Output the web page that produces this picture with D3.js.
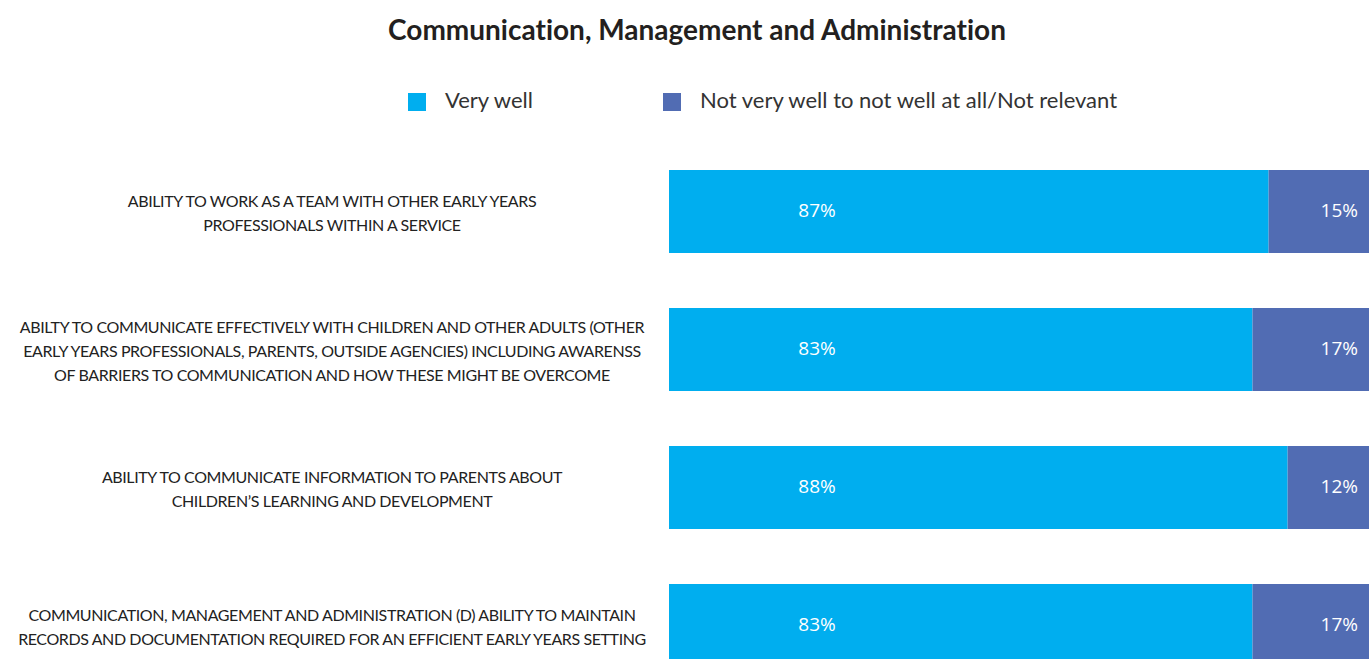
<!DOCTYPE html>
<html>
<head>
<meta charset="utf-8">
<script src="https://cdn.jsdelivr.net/npm/d3@7"></script>
<style>
  html, body { margin: 0; padding: 0; background: #fff; overflow: hidden; }
  svg { display: block; }
  text { font-variant-ligatures: none; }
</style>
</head>
<body>
<svg id="chart" width="1369" height="659"></svg>
<script>
// ---- data ----
const title = "Communication, Management and Administration";
const seriesNames = ["Very well", "Not very well to not well at all/Not relevant"];
const categories = [
  ["ABILITY TO WORK AS A TEAM WITH OTHER EARLY YEARS", "PROFESSIONALS WITHIN A SERVICE"],
  ["ABILTY TO COMMUNICATE EFFECTIVELY WITH CHILDREN AND OTHER ADULTS (OTHER", "EARLY YEARS PROFESSIONALS, PARENTS, OUTSIDE AGENCIES) INCLUDING AWARENSS", "OF BARRIERS TO COMMUNICATION AND HOW THESE MIGHT BE OVERCOME"],
  ["ABILITY TO COMMUNICATE INFORMATION TO PARENTS ABOUT", "CHILDREN\u2019S LEARNING AND DEVELOPMENT"],
  ["COMMUNICATION, MANAGEMENT AND ADMINISTRATION (D) ABILITY TO MAINTAIN", "RECORDS AND DOCUMENTATION REQUIRED FOR AN EFFICIENT EARLY YEARS SETTING"]
];
const veryWell = [87, 83, 88, 83];
const notWell = [15, 17, 12, 17];

// ---- layout ----
const W = 1369, H = 659;
const colors = ["#00aeef", "#516cb3"];
const svg = d3.select("#chart");

const ids = categories.map((c, i) => "c" + i);
const y = d3.scaleBand().domain(ids).range([170, 667]).paddingInner(0.3986).paddingOuter(0);
const x = d3.scaleLinear().domain([0, 1]).range([669, 669 + 703]);

// title
svg.append("text")
  .attr("x", 697).attr("y", 40)
  .attr("text-anchor", "middle")
  .style("font-family", "Lato, 'Open Sans', sans-serif")
  .style("font-weight", 700)
  .style("font-size", "28px")
  .style("fill", "#231f20")
  .text(title);

// legend
const legendX = [408, 663];
seriesNames.forEach((name, i) => {
  const g = svg.append("g").attr("transform", `translate(${legendX[i]},93)`);
  g.append("rect").attr("width", 18).attr("height", 18).attr("fill", colors[i]);
  g.append("text").attr("x", 37).attr("y", 15)
    .style("font-family", "Lato, 'Open Sans', sans-serif")
    .style("font-size", "22px")
    .style("fill", "#333")
    .text(name);
});

// rows
const rows = ids.map((id, i) => {
  const total = veryWell[i] + notWell[i];
  return { id, lines: categories[i], vw: veryWell[i], nw: notWell[i], total };
});

const row = svg.selectAll("g.row").data(rows).join("g").attr("class", "row");

row.append("rect")
  .attr("x", x(0))
  .attr("y", d => y(d.id))
  .attr("width", d => x(d.vw / d.total) - x(0))
  .attr("height", y.bandwidth())
  .attr("fill", colors[0]);

row.append("rect")
  .attr("x", d => x(d.vw / d.total))
  .attr("y", d => y(d.id))
  .attr("width", d => x(1) - x(d.vw / d.total))
  .attr("height", y.bandwidth())
  .attr("fill", colors[1]);

row.append("text")
  .attr("x", x(0) + 148)
  .attr("y", d => y(d.id) + y.bandwidth() / 2)
  .attr("dy", "0.3em")
  .attr("text-anchor", "middle")
  .style("font-family", "'Open Sans', sans-serif")
  .style("font-size", "19px")
  .style("fill", "#fff")
  .text(d => d.vw + "%");

row.append("text")
  .attr("x", W - 11)
  .attr("y", d => y(d.id) + y.bandwidth() / 2)
  .attr("dy", "0.3em")
  .attr("text-anchor", "end")
  .style("font-family", "'Open Sans', sans-serif")
  .style("font-size", "19px")
  .style("fill", "#fff")
  .text(d => d.nw + "%");

// category labels
const lineH = 24;
row.append("text")
  .attr("text-anchor", "middle")
  .style("font-family", "Lato, 'Open Sans', sans-serif")
  .style("font-size", "16px")
  .style("letter-spacing", "-0.4px")
  .style("fill", "#222")
  .each(function(d) {
    const t = d3.select(this);
    const cy = y(d.id) + y.bandwidth() / 2 + 2;
    const n = d.lines.length;
    d.lines.forEach((ln, k) => {
      t.append("tspan")
        .attr("x", 332)
        .attr("y", cy + (k - (n - 1) / 2) * lineH)
        .attr("dy", "0.35em")
        .text(ln);
    });
  });
</script>
</body>
</html>
